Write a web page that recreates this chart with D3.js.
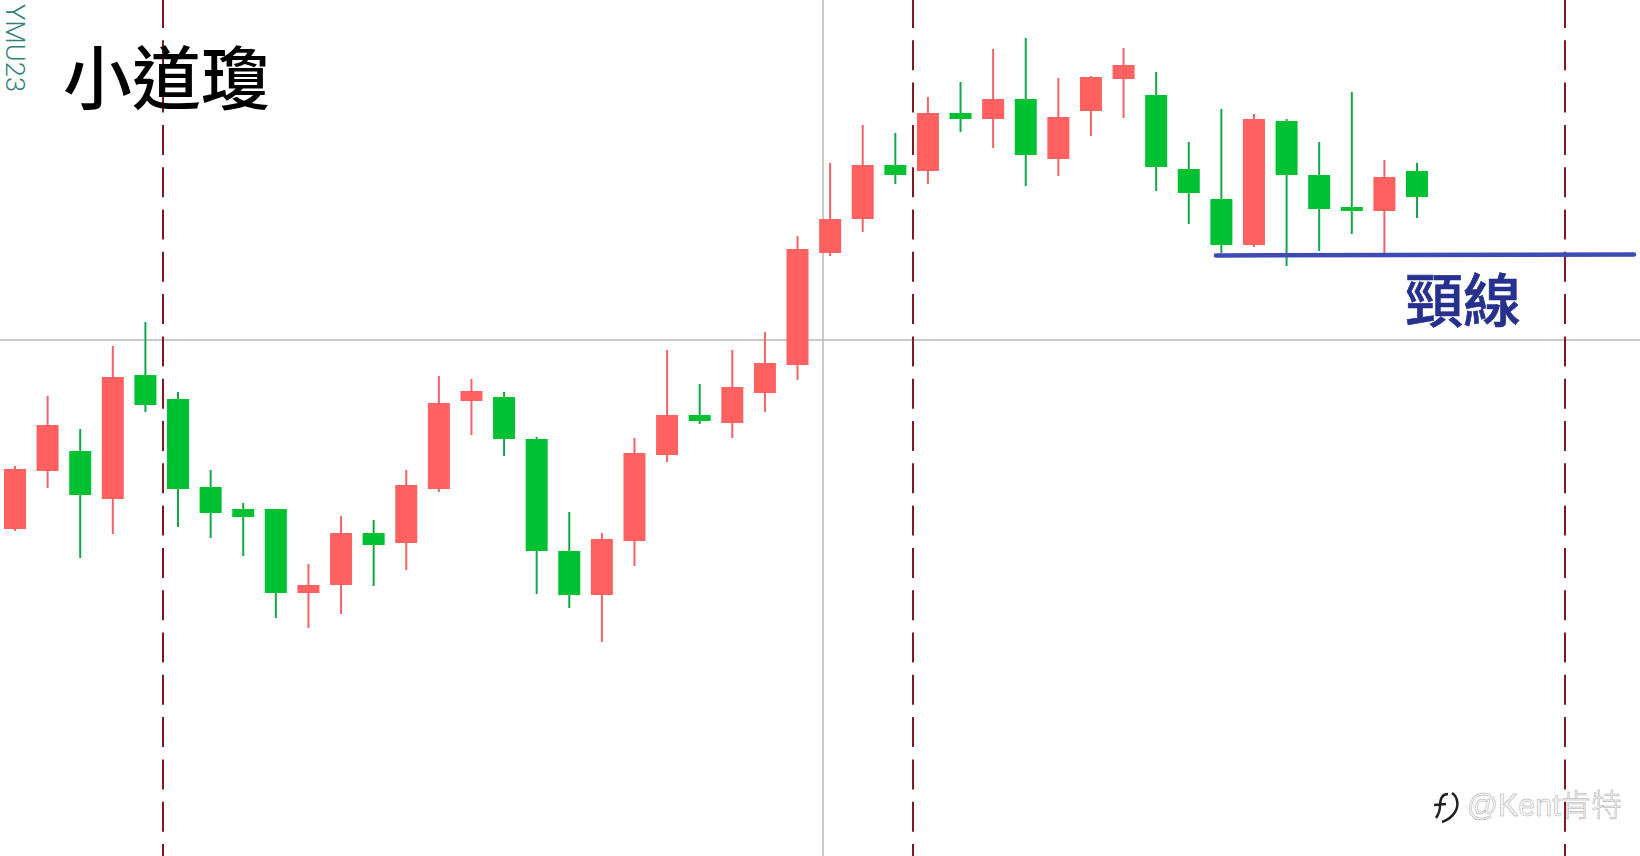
<!DOCTYPE html>
<html>
<head>
<meta charset="utf-8">
<script src="https://cdnjs.cloudflare.com/ajax/libs/d3/7.8.5/d3.min.js"></script>
<style>
	html, body { margin: 0; padding: 0; background: #fff; overflow: hidden; }
	svg { display: block; }
	text { font-family: "Noto Sans CJK TC", "Noto Sans", sans-serif; }
</style>
</head>
<body>
<svg id="svg"></svg>
<script>
const WIDTH = 1640
const HEIGHT = 856

// no price axis in the picture, values are levels read off it (height above the bottom edge)
const opens = [327, 385, 405, 357, 481, 457, 369, 347, 347, 263, 271, 323, 313, 367, 455, 459, 417, 305, 261, 315, 401, 441, 433, 463, 491, 603, 637, 691, 685, 743, 737, 757, 697, 745, 777, 761, 687, 657, 611, 735, 681, 649, 645, 685]
const closes = [387, 431, 361, 479, 451, 367, 343, 339, 263, 271, 323, 311, 371, 453, 465, 417, 305, 261, 317, 403, 441, 435, 469, 493, 607, 637, 691, 681, 743, 737, 757, 701, 739, 779, 791, 689, 663, 611, 737, 681, 647, 645, 679, 659]
const highs = [390, 460, 427, 510, 534, 464, 386, 353, 347, 292, 340, 336, 386, 480, 477, 464, 419, 344, 323, 418, 506, 472, 506, 524, 620, 693, 731, 723, 759, 774, 807, 818, 778, 780, 808, 784, 714, 747, 742, 737, 714, 764, 696, 693]
const lows = [325, 368, 298, 322, 444, 329, 318, 300, 238, 228, 242, 270, 286, 364, 421, 400, 262, 248, 214, 290, 394, 432, 418, 444, 476, 600, 624, 672, 672, 724, 708, 670, 680, 720, 738, 665, 632, 603, 609, 590, 605, 622, 602, 638]

const cycleLines = [163, 913, 1565]
const neckline = [255.5, 254.5]

const candles = d3.range(opens.length).map(i => ({
	i, open: opens[i], close: closes[i], high: highs[i], low: lows[i], up: closes[i] > opens[i]
}))

const $svg = d3.select('#svg').attr('width', WIDTH).attr('height', HEIGHT)

const xScale = d3.scaleLinear().domain([0, candles.length - 1]).range([15, 1417])
const yScale = d3.scaleLinear().domain([0, HEIGHT]).range([HEIGHT, 0])

const BODY_WIDTH = 22
const color = d => d.up ? '#ff6161' : '#00c132'
const wickColor = d => d.up ? '#f1636a' : '#12a84a'

// crosshair
$svg.append('line')
	.attr('x1', 0).attr('x2', WIDTH)
	.attr('y1', 340).attr('y2', 340)
	.attr('stroke', '#b8b8b8').attr('stroke-width', 1.5)
$svg.append('line')
	.attr('x1', 823).attr('x2', 823)
	.attr('y1', 0).attr('y2', HEIGHT)
	.attr('stroke', '#b8b8b8').attr('stroke-width', 1.5)

// candles
const $candles = $svg.append('g').selectAll('g').data(candles).join('g')
$candles.append('line')
	.attr('x1', d => xScale(d.i)).attr('x2', d => xScale(d.i))
	.attr('y1', d => yScale(d.high)).attr('y2', d => yScale(d.low))
	.attr('stroke', wickColor).attr('stroke-width', 2)
$candles.append('rect')
	.attr('x', d => xScale(d.i) - BODY_WIDTH / 2)
	.attr('y', d => yScale(Math.max(d.open, d.close)))
	.attr('width', BODY_WIDTH)
	.attr('height', d => Math.abs(yScale(d.open) - yScale(d.close)))
	.attr('fill', color)

// dashed period separators
$svg.append('g').selectAll('line').data(cycleLines).join('line')
	.attr('x1', d => d).attr('x2', d => d)
	.attr('y1', 0).attr('y2', HEIGHT)
	.attr('stroke', '#7d1a22').attr('stroke-width', 2)
	.attr('stroke-dasharray', '30 12.3')
	.attr('stroke-dashoffset', 2)

// neckline, starts under candle 38
$svg.append('line')
	.attr('x1', 1216).attr('x2', 1634)
	.attr('y1', neckline[0]).attr('y2', neckline[1])
	.attr('stroke', '#3f4bb5').attr('stroke-width', 4.5)
	.attr('stroke-linecap', 'round')

$svg.append('text')
	.attr('x', 1405).attr('y', 322)
	.attr('font-size', 58).attr('font-weight', 500)
	.attr('fill', '#25308f').attr('stroke', '#25308f').attr('stroke-width', 0.6)
	.text('頸線')

$svg.append('text')
	.attr('x', 63).attr('y', 104)
	.attr('font-size', 69).attr('font-weight', 500)
	.attr('fill', '#000')
	.text('小道瓊')

$svg.append('text')
	.attr('transform', 'translate(6, 4) rotate(90)')
	.attr('font-size', 26).attr('font-weight', 300)
	.attr('textLength', 88).attr('lengthAdjust', 'spacingAndGlyphs')
	.attr('fill', '#2f8278')
	.style('font-family', 'Roboto, sans-serif')
	.text('YMU23')

// watermark
$svg.append('path')
	.attr('d', 'M1448 794 C1441 794 1440 800 1440 806 C1440 812 1438 815 1436 818 M1434 805 L1446 804 M1452 793 C1458 797 1459 806 1455 812 C1452 817 1448 820 1442 822')
	.attr('fill', 'none').attr('stroke', '#222').attr('stroke-width', 2.5)

$svg.append('text')
	.attr('x', 1467).attr('y', 816)
	.attr('font-size', 30.5).attr('font-weight', 300)
	.attr('fill', '#f8f8f8').attr('stroke', '#a8a8a8').attr('stroke-width', 0.5)
	.style('font-family', '"Liberation Sans", "Noto Sans CJK SC", sans-serif')
	.text('@Kent肯特')
</script>
</body>
</html>
